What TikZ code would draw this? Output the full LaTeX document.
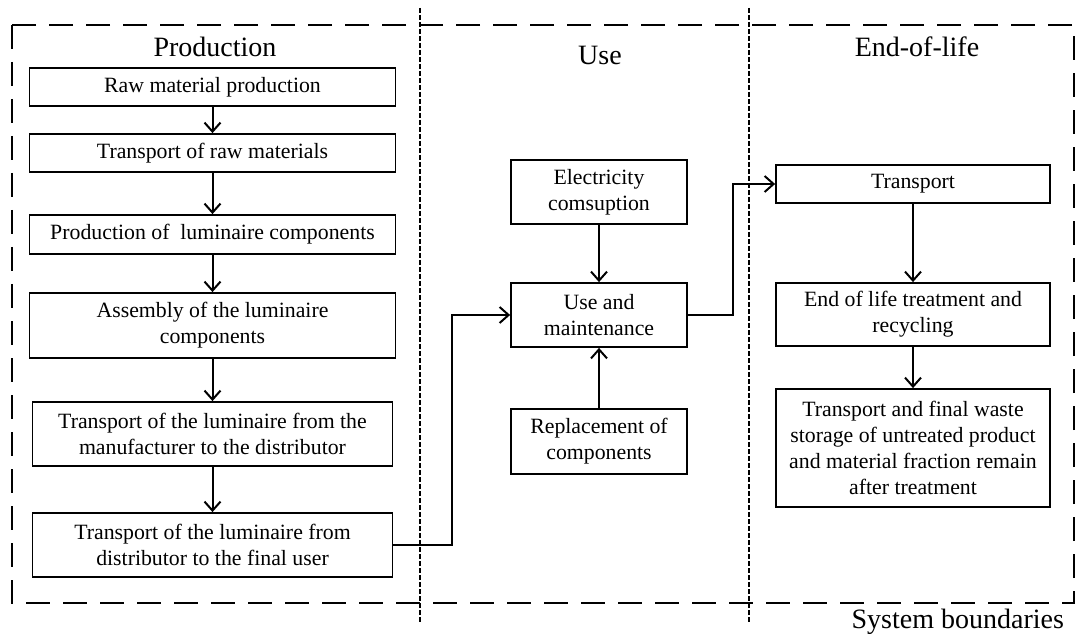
\documentclass[tikz,border=0pt]{standalone}
\usepackage{fontspec}
\setmainfont{Liberation Serif}
\usetikzlibrary{arrows.meta}

\begin{document}
\begin{tikzpicture}[x=0.5pt, y=0.5pt,
    stage/.style={draw=black, line width=0.9pt, align=center, inner sep=2pt,
        font=\fontsize{10.9}{13}\selectfont},
    flow/.style={line width=1pt, -{Straight Barb[length=4.5pt, width=8pt, line width=1pt]}},
    phase/.style={font=\fontsize{14}{16}\selectfont},
    divider/.style={line width=1pt, dash pattern=on 2.5pt off 1pt}]

    \useasboundingbox (0,0) rectangle (1076,-636);

    % System boundary (long dashes)
    \draw[line width=1.1pt, dash pattern=on 12pt off 6.5pt] (12,-25) rectangle (1074,-603);

    % Phase dividers
    \draw[divider] (420,-8) -- (420,-624);
    \draw[divider] (749,-8) -- (749,-624);

    % Phase titles
    \node[phase] (tprod) at (215,-47) {Production};
    \node[phase] (tuse) at (600,-55) {Use};
    \node[phase] (teol) at (917,-47) {End-of-life};
    \node[phase, anchor=east] (tsys) at (1071,-622) {System boundaries};

    % Production chain (sizes in pt = half the pixel size)
    \node[stage, minimum width=183pt, minimum height=19pt] (p1) at (212.5,-87) {Raw material production};
    \node[stage, minimum width=183pt, minimum height=19pt] (p2) at (212.5,-153) {Transport of raw materials};
    \node[stage, minimum width=183pt, minimum height=19.5pt] (p3) at (212.5,-234.5) {Production of\ \ luminaire components};
    \node[stage, minimum width=183pt, minimum height=32.5pt] (p4) at (212.5,-325.5) {Assembly of the luminaire\\components};
    \node[stage, minimum width=180pt, minimum height=32pt] (p5) at (212.5,-434) {Transport of the luminaire from the\\manufacturer to the distributor};
    \node[stage, minimum width=180pt, minimum height=32pt] (p6) at (212.5,-545) {Transport of the luminaire from\\distributor to the final user};

    \foreach \a/\b in {p1/p2, p2/p3, p3/p4, p4/p5, p5/p6} {
        \draw[flow] (\a) -- (\b);
    }

    % Use phase
    \node[stage, minimum width=88pt, minimum height=32pt] (u1) at (599,-192) {Electricity\\comsuption};
    \node[stage, minimum width=88pt, minimum height=32pt] (u2) at (599,-315) {Use and\\maintenance};
    \node[stage, minimum width=88pt, minimum height=32.5pt] (u3) at (599,-441.5) {Replacement of\\components};

    \draw[flow] (u1) -- (u2);
    \draw[flow] (u3) -- (u2);

    % End-of-life chain
    \node[stage, minimum width=137pt, minimum height=19pt] (e1) at (913,-184) {Transport};
    \node[stage, minimum width=137pt, minimum height=31.5pt] (e2) at (913,-314.5) {End of life treatment and\\recycling};
    \node[stage, minimum width=137pt, minimum height=59pt] (e3) at (913,-448) {Transport and final waste\\storage of untreated product\\and material fraction remain\\after treatment};

    \draw[flow] (e1) -- (e2);
    \draw[flow] (e2) -- (e3);

    % Links between phases
    \draw[flow] (p6.east) -- ++(59,0) |- (u2.west);
    \draw[flow] (u2.east) -- ++(45,0) |- (e1.west);

\end{tikzpicture}
\end{document}
